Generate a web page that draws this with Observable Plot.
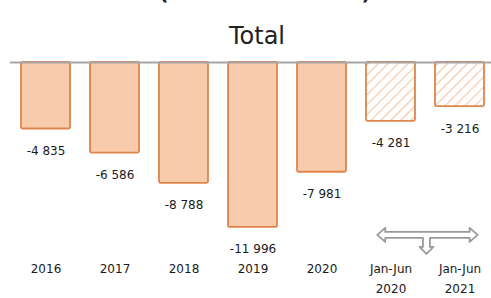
<!DOCTYPE html>
<html>
<head>
<meta charset="utf-8">
<script src="https://cdn.jsdelivr.net/npm/d3@7"></script>
<script src="https://cdn.jsdelivr.net/npm/@observablehq/plot@0.6"></script>
<style>
  html, body { margin: 0; padding: 0; background: #fff; }
  #wrap { position: relative; width: 491px; height: 298px; overflow: hidden; font-family: "DejaVu Sans", Verdana, sans-serif; }
  #header { position: absolute; top: -19px; left: 0; width: 530px; text-align: center; font-weight: bold; font-size: 20px; color: #222; white-space: nowrap; }
  #title { position: absolute; top: 22px; left: 157px; width: 200px; text-align: center; font-size: 24px; color: #222; line-height: 28px; }
  #chart { position: absolute; top: 55px; left: 0; }
</style>
</head>
<body>
<div id="wrap">
  <div id="header">(millions de euros)</div>
  <div id="title">Total</div>
  <div id="chart"></div>
</div>
<script>
const categories = ["2016", "2017", "2018", "2019", "2020", "Jan-Jun 2020", "Jan-Jun 2021"];
const tickLabels = ["2016", "2017", "2018", "2019", "2020", "Jan-Jun\n2020", "Jan-Jun\n2021"];
const values = [-4835, -6586, -8788, -11996, -7981, -4281, -3216];
const partial = [false, false, false, false, false, true, true];

const data = categories.map((c, i) => ({cat: c, value: values[i], partial: partial[i], label: tickLabels[i]}));
const fmt = v => (v < 0 ? "-" : "") + d3.format(",")(Math.abs(v)).replace(/,/g, " ");

const plot = Plot.plot({
  width: 491,
  height: 243,
  marginLeft: 10,
  marginRight: 0,
  marginTop: 7,
  marginBottom: 71,
  style: {fontFamily: "DejaVu Sans, Verdana, sans-serif", fontSize: "12px", color: "#1a1a1a", background: "white"},
  x: {domain: categories, range: [11, 494], paddingInner: 0.29, paddingOuter: 0.145, axis: null},
  y: {domain: [-12000, 0], range: [172, 7], axis: null},
  marks: [
    Plot.barY(data, {
      x: "cat", y: "value",
      fill: d => d.partial ? "url(#hatch)" : "#f8cbad",
      stroke: "#e0844a", strokeWidth: 1.8, rx: 1.5
    }),
    Plot.ruleY([0], {stroke: "#a6a6a6", strokeWidth: 2}),
    Plot.text(data, {x: "cat", y: "value", text: d => fmt(d.value), dy: 22, fill: "#1a1a1a", fontSize: 12}),
    Plot.axisX({
      anchor: "bottom", tickSize: 0, tickPadding: 31, label: null,
      tickFormat: c => tickLabels[categories.indexOf(c)],
      lineHeight: 1.7, fontSize: 12, fill: "#1a1a1a"
    })
  ]
});

// hatch pattern for partial-year bars
const svg = d3.select(plot);
const defs = svg.insert("defs", ":first-child");
const pat = defs.append("pattern")
  .attr("id", "hatch").attr("patternUnits", "userSpaceOnUse")
  .attr("width", 7).attr("height", 7)
  .attr("patternTransform", "rotate(45)");
pat.append("rect").attr("width", 7).attr("height", 7).attr("fill", "white");
pat.append("line").attr("x1", 0).attr("y1", 0).attr("x2", 0).attr("y2", 7)
  .attr("stroke", "#f6c5a2").attr("stroke-width", 2.2);

// hollow bracket arrow spanning the two half-year bars
const xs = plot.scale("x"), ys = plot.scale("y");
const bw = xs.bandwidth;
const c1 = xs.apply(categories[5]) + bw / 2;
const c2 = xs.apply(categories[6]) + bw / 2;
const L = c1 - bw * 0.27, R = c2 + bw * 0.37;
const cy = ys.apply(values[3]) + 8;
const h = 3, hh = 7, hl = 8;
const sx = (L + R) / 2 - 1, sw = 3.5, sEnd = cy + 19, sh = 7, sl = 7;
const p = [
  [L, cy], [L + hl, cy - hh], [L + hl, cy - h], [R - hl, cy - h], [R - hl, cy - hh], [R, cy],
  [R - hl, cy + hh], [R - hl, cy + h], [sx + sw, cy + h], [sx + sw, sEnd - sl], [sx + sh, sEnd - sl],
  [sx, sEnd], [sx - sh, sEnd - sl], [sx - sw, sEnd - sl], [sx - sw, cy + h], [L + hl, cy + h], [L + hl, cy + hh]
];
svg.append("path")
  .attr("d", "M" + p.map(q => q.join(",")).join("L") + "Z")
  .attr("fill", "white").attr("stroke", "#9a9a9a").attr("stroke-width", 1.8).attr("stroke-linejoin", "round");

document.getElementById("chart").appendChild(plot);
</script>
</body>
</html>
